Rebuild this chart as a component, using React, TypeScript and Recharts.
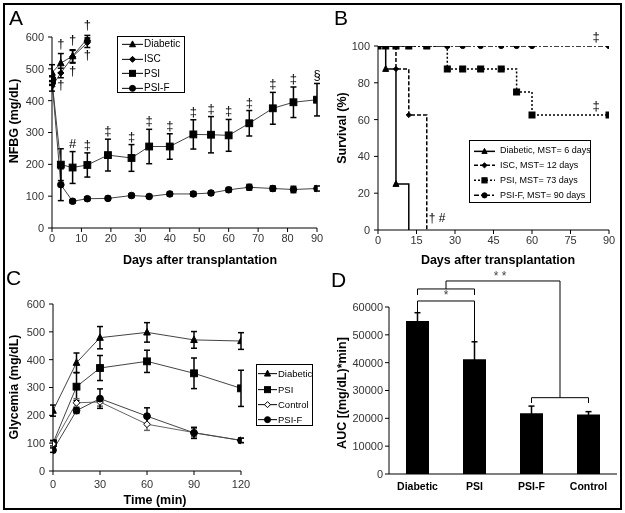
import React from 'react';
import { LineChart, Line, BarChart, Bar, XAxis, YAxis, ErrorBar, ReferenceDot, ReferenceLine, Legend } from 'recharts';

const FONT = '"Liberation Sans", Arial, Helvetica, sans-serif';

// ---------- Panel A : NFBG ----------
const daysA = [0, 3, 7, 12, 19, 27, 33, 40, 48, 54, 60, 67, 75, 82, 90];
const psiA = [463, 199, 190, 198, 229, 220, 256, 256, 294, 293, 291, 329, 376, 395, 403];
const psiErrA = [15, 50, 50, 38, 50, 42, 54, 40, 46, 57, 50, 40, 50, 48, 51];
const psiMarksA = ['', '', '#', '‡', '‡', '‡', '‡', '‡', '‡', '‡', '‡', '‡', '‡', '‡', '§'];
const psifA = [463, 136, 84, 92, 93, 102, 99, 107, 107, 110, 120, 128, 124, 121, 124];
const psifErrA = [12, 50, 6, 6, 6, 6, 6, 6, 7, 7, 7, 9, 8, 10, 8];
const earlyDaysA = [0, 3, 7, 12];
const diabeticA = [488, 518, 540, 595];
const diabeticErrA = [25, 30, 20, 10];
const diabeticMarksA = ['', '†', '†', '†'];
const iscA = [445, 487, 538, 582];
const iscErrA = [15, 15, 20, 15];
const iscMarksA = ['', '†', '†', '†'];
const xTicksA = [0, 10, 20, 30, 40, 50, 60, 70, 80, 90];
const yTicksA = [0, 100, 200, 300, 400, 500, 600];

// ---------- Panel B : survival ----------
const survDiabeticX = [0, 3, 7, 12];
const survDiabeticY = [100, 87.5, 25, 0];
const survIscX = [0, 3, 7, 12, 19];
const survIscY = [100, 100, 87.5, 62.5, 0];
const survPsiX = [0, 3, 7, 12, 19, 27, 33, 40, 48, 54, 60, 90];
const survPsiY = [100, 100, 100, 100, 100, 87.5, 87.5, 87.5, 87.5, 75, 62.5, 62.5];
const survPsifX = [0, 3, 7, 12, 19, 27, 33, 40, 48, 54, 60, 90];
const survPsifY = [100, 100, 100, 100, 100, 100, 100, 100, 100, 100, 100, 100];
const xTicksB = [0, 15, 30, 45, 60, 75, 90];
const yTicksB = [0, 20, 40, 60, 80, 100];

// ---------- Panel C : glycemia ----------
const timeC = [0, 15, 30, 60, 90, 120];
const diabeticC = [217, 389, 479, 498, 471, 467];
const diabeticErrC = [20, 35, 40, 35, 30, 30];
const psiC = [100, 303, 370, 394, 351, 297];
const psiErrC = [10, 50, 45, 40, 55, 65];
const controlC = [97, 245, 248, 168, 138, 110];
const controlErrC = [8, 15, 15, 22, 15, 8];
const psifC = [75, 217, 260, 197, 137, 110];
const psifErrC = [8, 10, 35, 30, 20, 8];
const xTicksC = [0, 30, 60, 90, 120];
const yTicksC = [0, 100, 200, 300, 400, 500, 600];

// ---------- Panel D : AUC ----------
const groupsD = ['Diabetic', 'PSI', 'PSI-F', 'Control'];
const aucD = [55000, 41200, 21800, 21400];
const aucErrD = [2950, 6300, 2600, 1000];
const yTicksD = [0, 10000, 20000, 30000, 40000, 50000, 60000];

const tbl = (xs: number[], ys: number[], es?: number[]) =>
  xs.map((x, i) => ({ x, y: ys[i], e: es ? es[i] : 0 }));

const dataDiabA = tbl(earlyDaysA, diabeticA, diabeticErrA);
const dataIscA = tbl(earlyDaysA, iscA, iscErrA);
const dataPsiA = tbl(daysA, psiA, psiErrA);
const dataPsifA = tbl(daysA, psifA, psifErrA);

const dataDiabB = tbl(survDiabeticX, survDiabeticY);
const dataIscB = tbl(survIscX, survIscY);
const dataPsiB = tbl(survPsiX, survPsiY);
const dataPsifB = tbl(survPsifX, survPsifY);

const dataDiabC = tbl(timeC, diabeticC, diabeticErrC);
const dataPsiC = tbl(timeC, psiC, psiErrC);
const dataCtrlC = tbl(timeC, controlC, controlErrC);
const dataPsifC = tbl(timeC, psifC, psifErrC);

const dataD = groupsD.map((name, i) => ({ name, pos: i + 1, v: aucD[i], e: aucErrD[i] }));
const posTicksD = groupsD.map((_, i) => i + 1);

function Marker({ shape, cx, cy, s, open }: any) {
  const common = { fill: open ? '#fff' : '#000', stroke: '#000', strokeWidth: 1 };
  if (shape === 'triangle')
    return <polygon points={`${cx},${cy - s * 1.15} ${cx - s},${cy + s * 0.8} ${cx + s},${cy + s * 0.8}`} {...common} />;
  if (shape === 'square') return <rect x={cx - s} y={cy - s} width={2 * s} height={2 * s} {...common} />;
  if (shape === 'diamond')
    return <polygon points={`${cx},${cy - s} ${cx + s},${cy} ${cx},${cy + s} ${cx - s},${cy}`} {...common} />;
  return <circle cx={cx} cy={cy} r={s} {...common} />;
}

const makeDot = (shape: string, s: number, open = false, skipZero = false) => (p: any) => {
  const key = `d-${p.index}`;
  const val = p.payload ? p.payload.y : p.value;
  if (p.cx == null || p.cy == null || (skipZero && val === 0)) return <g key={key} />;
  return (
    <g key={key}>
      <Marker shape={shape} cx={p.cx} cy={p.cy} s={s} open={open} />
    </g>
  );
};

// annotation text placed relative to a reference dot
const ann = (text: string, pos: string, offset: number, size = 13, fill = '#000') => (props: any) => {
  const vb = props.viewBox || { x: 0, y: 0, width: 0, height: 0 };
  const x = vb.x + (vb.width || 0) / 2;
  let y = vb.y + (vb.height || 0) / 2;
  let baseline: any = 'central';
  if (pos === 'top') {
    y = vb.y - offset;
    baseline = 'alphabetic';
  } else if (pos === 'bottom') {
    y = vb.y + (vb.height || 0) + offset;
    baseline = 'hanging';
  }
  return (
    <text x={x} y={y} textAnchor="middle" dominantBaseline={baseline} fill={fill} stroke="none"
      style={{ fontFamily: FONT, fontSize: size, fill }}>
      {text}
    </text>
  );
};

function Title(props: any) {
  const { tx, ty, text, rotate, size = 12.5 } = props;
  return (
    <text
      x={tx}
      y={ty}
      textAnchor="middle"
      dominantBaseline="central"
      transform={rotate ? `rotate(-90 ${tx} ${ty})` : undefined}
      style={{ fontFamily: FONT, fontSize: size, fontWeight: 'bold', fill: '#000' }}
    >
      {text}
    </text>
  );
}

function LegendBox({ items, width, height, rowH, padTop, padLeft, sampleW, gap, fontSize, s }: any) {
  return (
    <div
      style={{
        width,
        height,
        boxSizing: 'border-box',
        border: '1px solid #000',
        background: '#fff',
        paddingTop: padTop,
        paddingLeft: padLeft,
        fontFamily: FONT,
        fontSize,
        color: '#000',
        lineHeight: 1,
      }}
    >
      {items.map((it: any) => (
        <div key={it.name} style={{ display: 'flex', alignItems: 'center', height: rowH, whiteSpace: 'nowrap' }}>
          <svg width={sampleW} height={rowH} style={{ flex: 'none' }}>
            <line x1={0} x2={sampleW} y1={rowH / 2} y2={rowH / 2} stroke="#000" strokeWidth={it.w || 1} strokeDasharray={it.dash} />
            <Marker shape={it.shape} cx={sampleW / 2} cy={rowH / 2} s={s} open={it.open} />
          </svg>
          <span style={{ marginLeft: gap }}>{it.name}</span>
        </div>
      ))}
    </div>
  );
}

const legendA = [
  { name: 'Diabetic', shape: 'triangle' },
  { name: 'ISC', shape: 'diamond' },
  { name: 'PSI', shape: 'square' },
  { name: 'PSI-F', shape: 'circle' },
];
const legendB = [
  { name: 'Diabetic, MST= 6 days', shape: 'triangle', w: 1.5 },
  { name: 'ISC, MST= 12 days', shape: 'diamond', dash: '4 2', w: 1.5 },
  { name: 'PSI, MST= 73 days', shape: 'square', dash: '2 2', w: 1.5 },
  { name: 'PSI-F, MST= 90 days', shape: 'circle', dash: '5 2 2 2', w: 1.5 },
];
const legendC = [
  { name: 'Diabetic', shape: 'triangle' },
  { name: 'PSI', shape: 'square' },
  { name: 'Control', shape: 'diamond', open: true },
  { name: 'PSI-F', shape: 'circle' },
];

const tickStyle = { fontSize: 11, fill: '#333', fontFamily: FONT };
const LINE = '#444';

function PanelA() {
  return (
    <LineChart width={330} height={270} margin={{ top: 37, right: 13, bottom: 12, left: 22 }}>
      <XAxis
        type="number"
        dataKey="x"
        domain={[0, 90]}
        ticks={xTicksA}
        allowDataOverflow
        height={30}
        tick={tickStyle}
        tickSize={4}
        tickMargin={2}
        stroke="#000"
        label={<Title tx={200} ty={259.5} text="Days after transplantation" />}
      />
      <YAxis
        type="number"
        domain={[0, 600]}
        ticks={yTicksA}
        allowDataOverflow
        width={30}
        tick={tickStyle}
        tickSize={4}
        tickMargin={4}
        stroke="#000"
        label={<Title tx={14} ty={121} rotate text="NFBG (mg/dL)" />}
      />
      <Line data={dataPsifA} dataKey="y" stroke={LINE} strokeWidth={1} dot={makeDot('circle', 3.3)} isAnimationActive={false}>
        <ErrorBar dataKey="e" width={3} stroke="#000" direction="y" />
      </Line>
      <Line data={dataPsiA} dataKey="y" stroke={LINE} strokeWidth={1} dot={makeDot('square', 3.4)} isAnimationActive={false}>
        <ErrorBar dataKey="e" width={3} stroke="#000" direction="y" />
      </Line>
      <Line data={dataIscA} dataKey="y" stroke={LINE} strokeWidth={1} dot={makeDot('diamond', 3)} isAnimationActive={false}>
        <ErrorBar dataKey="e" width={3} stroke="#000" direction="y" />
      </Line>
      <Line data={dataDiabA} dataKey="y" stroke={LINE} strokeWidth={1} dot={makeDot('triangle', 3.3)} isAnimationActive={false}>
        <ErrorBar dataKey="e" width={3} stroke="#000" direction="y" />
      </Line>
      {daysA.map((d, i) =>
        psiMarksA[i] ? (
          <ReferenceDot key={'pa' + i} x={d} y={psiA[i] + psiErrA[i]} r={0} ifOverflow="visible"
            label={ann(psiMarksA[i], 'top', 4)} />
        ) : null
      )}
      {earlyDaysA.map((d, i) =>
        diabeticMarksA[i] ? (
          <ReferenceDot key={'da' + i} x={d} y={diabeticA[i] + diabeticErrA[i]} r={0} ifOverflow="visible"
            label={ann(diabeticMarksA[i], 'top', 6)} />
        ) : null
      )}
      {earlyDaysA.map((d, i) =>
        iscMarksA[i] ? (
          <ReferenceDot key={'ia' + i} x={d} y={iscA[i] - iscErrA[i]} r={0} ifOverflow="visible"
            label={ann(iscMarksA[i], 'bottom', 2)} />
        ) : null
      )}
      <Legend
        layout="vertical"
        align="center"
        verticalAlign="middle"
        width={68}
        wrapperStyle={{ left: 117, top: 36, width: 68 }}
        content={() => (
          <LegendBox items={legendA} width={68} height={57} rowH={14.7} padTop={0} padLeft={4} sampleW={21} gap={1} fontSize={10} s={3} />
        )}
      />
    </LineChart>
  );
}

function PanelB() {
  return (
    <LineChart width={315} height={270} margin={{ top: 46, right: 16, bottom: 10, left: 38 }}>
      <XAxis
        type="number"
        dataKey="x"
        domain={[0, 90]}
        ticks={xTicksB}
        allowDataOverflow
        height={30}
        tick={tickStyle}
        tickSize={4}
        tickMargin={2}
        stroke="#000"
        label={<Title tx={188} ty={259.5} text="Days after transplantation" />}
      />
      <YAxis
        type="number"
        domain={[0, 100]}
        ticks={yTicksB}
        allowDataOverflow
        width={30}
        tick={tickStyle}
        tickSize={4}
        tickMargin={4}
        stroke="#000"
        label={<Title tx={32} ty={128} rotate text="Survival (%)" />}
      />
      <Line data={dataPsifB} type="stepAfter" dataKey="y" stroke="#000" strokeWidth={1.5} strokeDasharray="5 2 2 2" dot={makeDot('circle', 2.6)} isAnimationActive={false} />
      <Line data={dataPsiB} type="stepAfter" dataKey="y" stroke="#000" strokeWidth={1.5} strokeDasharray="2 2" dot={makeDot('square', 3)} isAnimationActive={false} />
      <Line data={dataIscB} type="stepAfter" dataKey="y" stroke="#000" strokeWidth={1.5} strokeDasharray="4 2" dot={makeDot('diamond', 2.6, false, true)} isAnimationActive={false} />
      <Line data={dataDiabB} type="stepAfter" dataKey="y" stroke="#000" strokeWidth={1.5} dot={makeDot('triangle', 3, false, true)} isAnimationActive={false} />
      <ReferenceDot x={85} y={100} r={0} ifOverflow="visible" label={ann('‡', 'top', 5)} />
      <ReferenceDot x={85} y={62.5} r={0} ifOverflow="visible" label={ann('‡', 'top', 5)} />
      <ReferenceDot x={23} y={6.5} r={0} ifOverflow="visible" label={ann('† #', 'center', 0, 12)} />
      <Legend
        layout="vertical"
        align="center"
        verticalAlign="middle"
        width={122}
        wrapperStyle={{ left: 159, top: 140, width: 122 }}
        content={() => (
          <LegendBox items={legendB} width={122} height={63} rowH={14.7} padTop={2.6} padLeft={4} sampleW={21} gap={5} fontSize={9} s={2.6} />
        )}
      />
    </LineChart>
  );
}

function PanelC() {
  return (
    <LineChart width={330} height={263} margin={{ top: 54, right: 89, bottom: 12, left: 23 }}>
      <XAxis
        type="number"
        dataKey="x"
        domain={[0, 120]}
        ticks={xTicksC}
        allowDataOverflow
        height={30}
        tick={tickStyle}
        tickSize={4}
        tickMargin={5}
        stroke="#000"
        label={<Title tx={155} ty={250} text="Time (min)" />}
      />
      <YAxis
        type="number"
        domain={[0, 600]}
        ticks={yTicksC}
        allowDataOverflow
        width={30}
        tick={tickStyle}
        tickSize={4}
        tickMargin={4}
        stroke="#000"
        label={<Title tx={14} ty={137} rotate text="Glycemia (mg/dL)" />}
      />
      <Line data={dataDiabC} dataKey="y" stroke={LINE} strokeWidth={1} dot={makeDot('triangle', 3.3)} isAnimationActive={false}>
        <ErrorBar dataKey="e" width={3} stroke="#000" direction="y" />
      </Line>
      <Line data={dataPsiC} dataKey="y" stroke={LINE} strokeWidth={1} dot={makeDot('square', 3.4)} isAnimationActive={false}>
        <ErrorBar dataKey="e" width={3} stroke="#000" direction="y" />
      </Line>
      <Line data={dataCtrlC} dataKey="y" stroke="#666" strokeWidth={1} dot={makeDot('diamond', 3.4, true)} isAnimationActive={false}>
        <ErrorBar dataKey="e" width={3} stroke="#666" direction="y" />
      </Line>
      <Line data={dataPsifC} dataKey="y" stroke={LINE} strokeWidth={1} dot={makeDot('circle', 3.4)} isAnimationActive={false}>
        <ErrorBar dataKey="e" width={3} stroke="#000" direction="y" />
      </Line>
      <Legend
        layout="vertical"
        align="center"
        verticalAlign="middle"
        width={57}
        wrapperStyle={{ left: 256, top: 114, width: 57 }}
        content={() => (
          <LegendBox items={legendC} width={57} height={62} rowH={15.3} padTop={1.4} padLeft={1} sampleW={19} gap={1} fontSize={9.5} s={3} />
        )}
      />
    </LineChart>
  );
}

// bracket geometry in (category position, AUC value) units
const bracketSegs = [
  [[1, 57960], [1, 62160], [2, 62160], [2, 47540]],
  [[1, 64320], [1, 66480], [2, 66480], [2, 64320]],
  [[1.5, 66480], [1.5, 69350], [3.5, 69350], [3.5, 27420]],
  [[3, 25510], [3, 27420], [4, 27420], [4, 25510]],
];

function PanelD() {
  const segs: any[] = [];
  bracketSegs.forEach((poly, k) => {
    for (let i = 0; i < poly.length - 1; i++) {
      segs.push(
        <ReferenceLine
          key={`b${k}-${i}`}
          ifOverflow="visible"
          stroke="#000"
          strokeWidth={1}
          segment={[{ x: poly[i][0], y: poly[i][1] }, { x: poly[i + 1][0], y: poly[i + 1][1] }]}
        />
      );
    }
  });
  return (
    <BarChart width={315} height={263} data={dataD} margin={{ top: 57, right: 8, bottom: 9, left: 39 }}>
      <XAxis
        type="number"
        dataKey="pos"
        domain={[0.5, 4.5]}
        ticks={posTicksD}
        allowDataOverflow
        tickFormatter={(p: number) => groupsD[p - 1]}
        height={30}
        tick={{ fontSize: 10.5, fill: '#000', fontWeight: 'bold', fontFamily: FONT }}
        tickLine={false}
        tickSize={4}
        tickMargin={5}
        stroke="#000"
      />
      <YAxis
        type="number"
        domain={[0, 60000]}
        ticks={yTicksD}
        allowDataOverflow
        width={40}
        tick={tickStyle}
        tickSize={4}
        tickMargin={2}
        stroke="#000"
        label={<Title tx={32} ty={143} rotate text="AUC [(mg/dL)*min]" />}
      />
      <Bar dataKey="v" fill="#000" barSize={23} isAnimationActive={false}>
        <ErrorBar dataKey="e" width={3} stroke="#000" direction="y" />
      </Bar>
      {segs}
      <ReferenceDot x={1.5} y={64300} r={0} ifOverflow="visible" label={ann('*', 'center', 0, 12, '#444')} />
      <ReferenceDot x={2.45} y={71300} r={0} ifOverflow="visible" label={ann('* *', 'center', 0, 12, '#444')} />
    </BarChart>
  );
}

export default function App() {
  return (
    <div style={{ position: 'absolute', left: 0, top: 0, width: 625, height: 513, background: '#fff', overflow: 'hidden', filter: 'grayscale(100%)' }}>
      <div style={{ position: 'absolute', left: 0, top: 0 }}>
        <PanelA />
      </div>
      <div style={{ position: 'absolute', left: 310, top: 0 }}>
        <PanelB />
      </div>
      <div style={{ position: 'absolute', left: 0, top: 250 }}>
        <PanelC />
      </div>
      <div style={{ position: 'absolute', left: 310, top: 250 }}>
        <PanelD />
      </div>
      <svg width={625} height={513} style={{ position: 'absolute', left: 0, top: 0, pointerEvents: 'none' }}>
        <rect x={4} y={4} width={617} height={505} fill="none" stroke="#000" strokeWidth={2} />
        <g style={{ fontFamily: FONT, fontSize: 21, fill: '#000' }}>
          <text x={9} y={25}>A</text>
          <text x={334} y={25}>B</text>
          <text x={6} y={285}>C</text>
          <text x={331} y={287}>D</text>
        </g>
      </svg>
    </div>
  );
}
